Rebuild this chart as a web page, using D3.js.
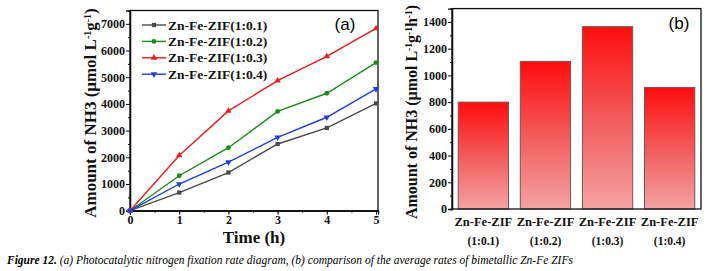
<!DOCTYPE html>
<html>
<head>
<meta charset="utf-8">
<script src="https://cdn.jsdelivr.net/npm/d3@7"></script>
<style>
  body { margin: 0; background: #fff; }
  svg { display: block; }
  .tick text { font-family: "Liberation Serif", serif; font-weight: bold; font-size: 12px; fill: #111; }
  .axis path, .axis line { stroke: #111; }
  .ttl { font-family: "Liberation Serif", serif; font-weight: bold; fill: #111; }
</style>
</head>
<body>
<div id="plot"></div>
<script>
const hours = [0, 1, 2, 3, 4, 5]
const zif01 = [0, 680, 1430, 2500, 3100, 4020]
const zif02 = [0, 1310, 2360, 3720, 4400, 5550]
const zif03 = [0, 2070, 3740, 4870, 5780, 6830]
const zif04 = [0, 1000, 1820, 2750, 3500, 4560]
const seriesNames = ["Zn-Fe-ZIF(1:0.1)", "Zn-Fe-ZIF(1:0.2)", "Zn-Fe-ZIF(1:0.3)", "Zn-Fe-ZIF(1:0.4)"]
const ratios = ["(1:0.1)", "(1:0.2)", "(1:0.3)", "(1:0.4)"]
const rates = [800, 1105, 1365, 910]
const yTicksA = [0, 1000, 2000, 3000, 4000, 5000, 6000, 7000]
const xTicksA = [0, 1, 2, 3, 4, 5]
const yTicksB = [0, 200, 400, 600, 800, 1000, 1200, 1400]

const colors = ["#4a4a4a", "#1b8a1b", "#e81c1c", "#1f3de6"],
      symbols = [d3.symbolSquare, d3.symbolCircle, d3.symbolTriangle, d3.symbolTriangle],
      W = 716, H = 271

const svg = d3.select("#plot").append("svg")
  .attr("width", W)
  .attr("height", H)

// ---------- panel (a)
const xa = d3.scaleLinear().domain([0, 5.04]).range([130, 378]),
      ya = d3.scaleLinear().domain([0, 7500]).range([210.7, 10.5])

const gA = svg.append("g")

gA.append("rect")
  .attr("x", xa.range()[0]).attr("y", ya.range()[1])
  .attr("width", xa.range()[1] - xa.range()[0])
  .attr("height", ya.range()[0] - ya.range()[1])
  .attr("fill", "none").attr("stroke", "#111").attr("stroke-width", 1.3)

gA.append("g").attr("class", "axis")
  .attr("transform", `translate(0,${ya.range()[0]})`)
  .call(d3.axisBottom(xa).tickValues(d3.range(0, 5.01, 0.5)).tickSize(2).tickFormat(""))
gA.append("g").attr("class", "axis")
  .attr("transform", `translate(0,${ya.range()[0]})`)
  .call(d3.axisBottom(xa).tickValues(xTicksA).tickSize(4).tickPadding(1).tickFormat(d3.format("d")))
gA.append("g").attr("class", "axis")
  .attr("transform", `translate(${xa.range()[0]},0)`)
  .call(d3.axisLeft(ya).tickValues(d3.range(500, 7500, 1000)).tickSize(2).tickFormat(""))
gA.append("g").attr("class", "axis")
  .attr("transform", `translate(${xa.range()[0]},0)`)
  .call(d3.axisLeft(ya).tickValues(yTicksA).tickSize(4).tickPadding(1).tickFormat(d3.format("d")))
gA.selectAll(".axis .domain").attr("stroke-width", 1.3)

const seriesA = [zif01, zif02, zif03, zif04]
const line = d3.line().x((d, i) => xa(hours[i])).y(d => ya(d))

seriesA.forEach((s, k) => {
  gA.append("path")
    .datum(s)
    .attr("d", line)
    .attr("fill", "none")
    .attr("stroke", colors[k])
    .attr("stroke-width", 1.4)
  gA.selectAll(null)
    .data(s)
    .enter().append("path")
    .attr("d", d3.symbol().type(symbols[k]).size(18))
    .attr("transform", (d, i) => `translate(${xa(hours[i])},${ya(d)})` + (k == 3 ? " rotate(180)" : ""))
    .attr("fill", colors[k])
})

// legend
const leg = gA.append("g")
seriesNames.forEach((name, k) => {
  const yy = 25 + k * 16.4
  leg.append("line")
    .attr("x1", 142).attr("x2", 166).attr("y1", yy).attr("y2", yy)
    .attr("stroke", colors[k]).attr("stroke-width", 1.4)
  leg.append("path")
    .attr("d", d3.symbol().type(symbols[k]).size(18))
    .attr("transform", `translate(154,${yy})` + (k == 3 ? " rotate(180)" : ""))
    .attr("fill", colors[k])
  leg.append("text")
    .attr("class", "ttl")
    .attr("x", 168).attr("y", yy + 4.5)
    .style("font-size", "13.5px")
    .text(name)
})

gA.append("text")
  .attr("x", 345).attr("y", 30)
  .attr("text-anchor", "middle")
  .style("font-family", "Liberation Sans, Arial, sans-serif")
  .style("font-size", "17px")
  .text("(a)")

gA.append("text")
  .attr("class", "ttl")
  .attr("x", 254).attr("y", 243)
  .attr("text-anchor", "middle")
  .style("font-size", "17px")
  .text("Time (h)")

const ylabA = gA.append("text")
  .attr("class", "ttl")
  .attr("transform", "translate(96,113) rotate(-90)")
  .attr("text-anchor", "middle")
  .style("font-size", "17px")
ylabA.append("tspan").text("Amount of NH3 (μmol L")
ylabA.append("tspan").attr("baseline-shift", "super").style("font-size", "10px").text("-1")
ylabA.append("tspan").text("g")
ylabA.append("tspan").attr("baseline-shift", "super").style("font-size", "10px").text("-1")
ylabA.append("tspan").text(")")

// ---------- panel (b)
const xb = d3.scaleBand().domain(ratios).range([452, 701]).paddingInner(0.19).paddingOuter(0.1),
      yb = d3.scaleLinear().domain([0, 1500]).range([209, 8.6])

const gB = svg.append("g")

const grad = svg.append("defs").append("linearGradient")
  .attr("id", "barGrad")
  .attr("x1", 0).attr("y1", 0).attr("x2", 0).attr("y2", 1)
grad.append("stop").attr("offset", "0%").attr("stop-color", "#ff0d0d")
grad.append("stop").attr("offset", "50%").attr("stop-color", "#f25a5a")
grad.append("stop").attr("offset", "100%").attr("stop-color", "#f4a3a3")

gB.selectAll(".bar")
  .data(rates)
  .enter().append("rect")
  .attr("class", "bar")
  .attr("x", (d, i) => xb(ratios[i]))
  .attr("y", d => yb(d))
  .attr("width", xb.bandwidth())
  .attr("height", d => yb(0) - yb(d))
  .attr("fill", "url(#barGrad)")
  .attr("stroke", "#6a5a5a")
  .attr("stroke-width", 1)

gB.append("rect")
  .attr("x", xb.range()[0]).attr("y", yb.range()[1])
  .attr("width", xb.range()[1] - xb.range()[0])
  .attr("height", yb.range()[0] - yb.range()[1])
  .attr("fill", "none").attr("stroke", "#111").attr("stroke-width", 1.3)

gB.append("g").attr("class", "axis")
  .attr("transform", `translate(${xb.range()[0]},0)`)
  .call(d3.axisLeft(yb).tickValues(d3.range(100, 1500, 200)).tickSize(2).tickFormat(""))
gB.append("g").attr("class", "axis")
  .attr("transform", `translate(${xb.range()[0]},0)`)
  .call(d3.axisLeft(yb).tickValues(yTicksB).tickSize(4).tickPadding(1).tickFormat(d3.format("d")))
gB.selectAll(".axis .domain").attr("stroke-width", 1.3)

ratios.forEach(r => {
  const cx = xb(r) + xb.bandwidth() / 2
  gB.append("text").attr("class", "ttl")
    .attr("x", cx).attr("y", 226)
    .attr("text-anchor", "middle")
    .style("font-size", "12.5px")
    .text("Zn-Fe-ZIF")
  gB.append("text").attr("class", "ttl")
    .attr("x", cx).attr("y", 245)
    .attr("text-anchor", "middle")
    .style("font-size", "11.5px")
    .text(r)
})

gB.append("text")
  .attr("x", 679).attr("y", 29)
  .attr("text-anchor", "middle")
  .style("font-family", "Liberation Sans, Arial, sans-serif")
  .style("font-size", "17px")
  .text("(b)")

// long label: slightly smaller so it stays inside the top edge
const ylabB = gB.append("text")
  .attr("class", "ttl")
  .attr("transform", "translate(417,112) rotate(-90)")
  .attr("text-anchor", "middle")
  .style("font-size", "16px")
ylabB.append("tspan").text("Amount of NH3 (μmol L")
ylabB.append("tspan").attr("baseline-shift", "super").style("font-size", "9.5px").text("-1")
ylabB.append("tspan").text("g")
ylabB.append("tspan").attr("baseline-shift", "super").style("font-size", "9.5px").text("-1")
ylabB.append("tspan").text("h")
ylabB.append("tspan").attr("baseline-shift", "super").style("font-size", "9.5px").text("-1")
ylabB.append("tspan").text(")")

// ---------- caption
const cap = svg.append("text")
  .attr("x", 7).attr("y", 264)
  .style("font-family", "Liberation Serif, serif")
  .style("font-style", "italic")
  .style("font-size", "11.5px")
cap.append("tspan").style("font-weight", "bold").text("Figure 12.")
cap.append("tspan").text(" (a) Photocatalytic nitrogen fixation rate diagram, (b) comparison of the average rates of bimetallic Zn-Fe ZIFs")
</script>
</body>
</html>
